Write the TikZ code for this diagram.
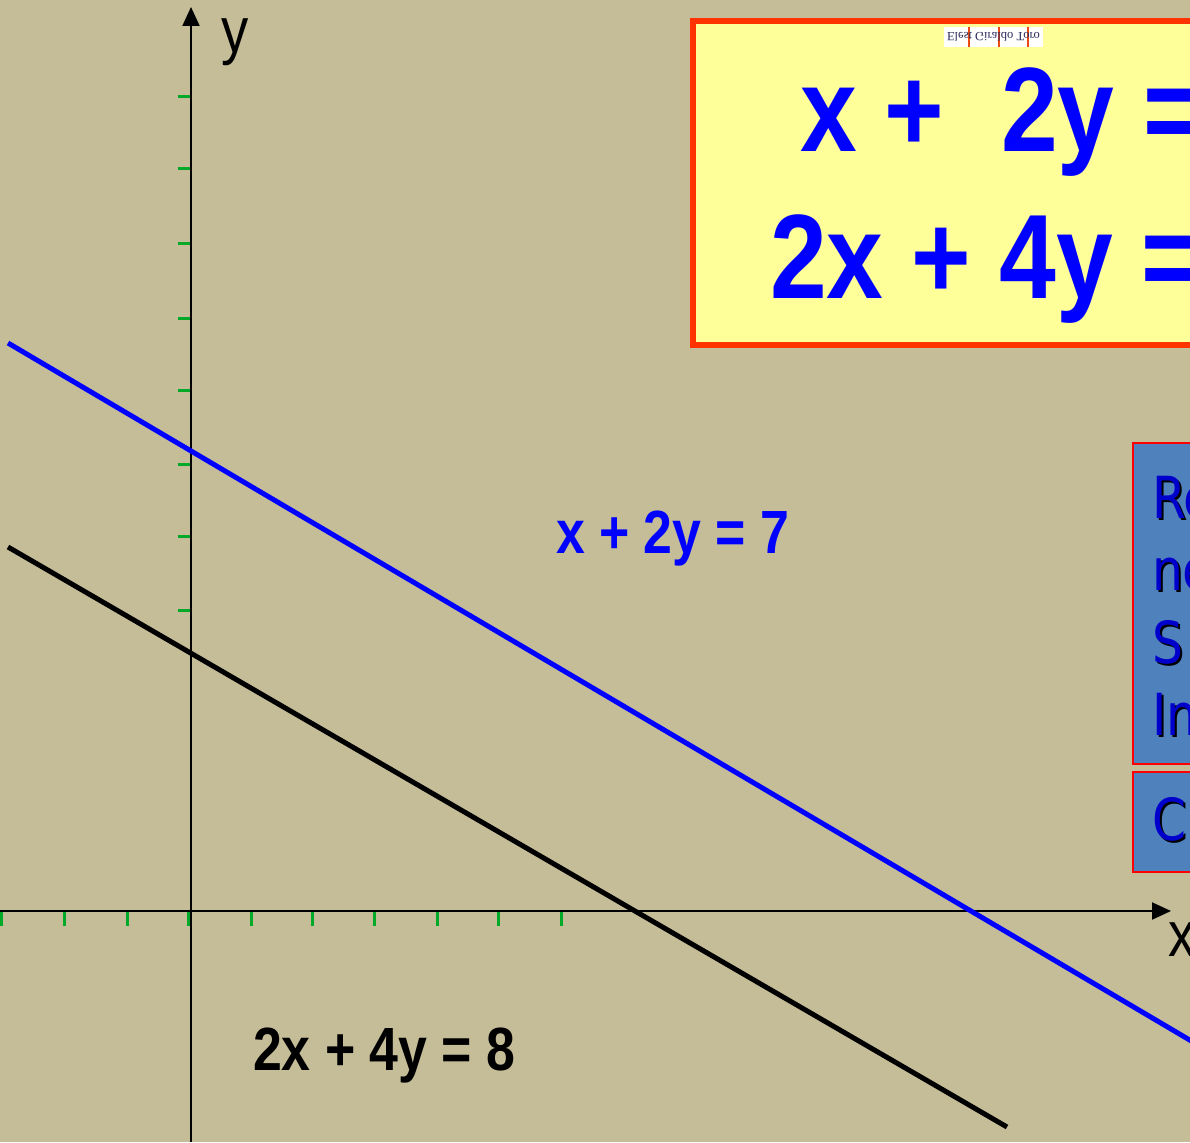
\documentclass[tikz,border=0pt]{standalone}
\usepackage{fontspec}
\setmainfont{Liberation Sans}
\newfontfamily\narfont[FakeStretch=0.85]{Liberation Sans}
\newfontfamily\dvfont[FakeStretch=0.84]{DejaVu Sans}
\newfontfamily\creditfont{Liberation Serif}
\usetikzlibrary{arrows.meta}
\definecolor{bgc}{RGB}{197,189,151}
\definecolor{yelfill}{RGB}{255,255,153}
\definecolor{orborder}{RGB}{255,51,0}
\definecolor{boxblue}{RGB}{79,129,189}
\definecolor{tickgreen}{RGB}{0,170,40}
\definecolor{eqblue}{RGB}{0,0,255}
\definecolor{darkblue}{RGB}{0,0,205}
\definecolor{creditcol}{RGB}{40,40,90}
\newcommand{\shadowtxt}[1]{\rlap{\hspace{2.5pt}\raisebox{-2.5pt}{\color{black}#1}}#1}
\tikzset{
  txt/.style={anchor=base west, inner sep=0pt, outer sep=0pt},
  bigeq/.style={txt, text=eqblue, font=\narfont\bfseries\fontsize{120}{120}\selectfont},
  lbl/.style={txt, font=\narfont\bfseries\fontsize{61}{61}\selectfont},
  axlbl/.style={txt, font=\narfont\fontsize{64}{64}\selectfont},
  boxtxt/.style={txt, text=darkblue, font=\dvfont\fontsize{58}{58}\selectfont},
  tickmark/.style={draw=tickgreen, line width=3pt},
  axis/.style={draw=black, line width=2pt, -{Triangle[length=19pt,width=17pt]}},
  graphline/.style={line width=5pt},
  sidebox/.style={fill=boxblue, draw=red, line width=2pt}
}
\begin{document}
\begin{tikzpicture}[x=1pt,y=-1pt]
\useasboundingbox (0,0) rectangle (1190,1142);
\clip (0,0) rectangle (1190,1142);
\fill[bgc] (0,0) rectangle (1190,1142);

% equation box
\filldraw[fill=yelfill, draw=orborder, line width=6pt] (693,21) rectangle (1230,345);
\node[bigeq] (eq1) at (800,152) {x +\ \ 2y =};
\node[bigeq] (eq2) at (770,298) {2x + 4y =};

% credit label
\fill[white] (944,27) rectangle (1043,47);
\foreach \bx in {969,999,1028} \draw[draw=orborder!70!brown, line width=1.2pt] (\bx,27) -- (\bx,47);
\node[inner sep=0pt, text=creditcol, font=\creditfont\fontsize{12.5}{12.5}\selectfont] (credit) at (993.5,37) {\scalebox{1}[-1]{Elest Giraldo Toro}};

% side boxes
\filldraw[sidebox] (1133,443) rectangle (1230,764);
\filldraw[sidebox] (1133,772) rectangle (1230,872);
\node[boxtxt] (t1) at (1152,518) {\shadowtxt{Re}};
\node[boxtxt] (t2) at (1152,590) {\shadowtxt{ne}};
\node[boxtxt] (t3) at (1152,663) {\shadowtxt{S}};
\node[boxtxt] (t4) at (1152,735) {\shadowtxt{In}};
\node[boxtxt] (t5) at (1152,840) {\shadowtxt{C}};

% ticks
\foreach \tx in {1,64,127,188,251,312,374,437,498,561}
  \draw[tickmark] (\tx,912) -- (\tx,926);
\foreach \ty in {97,169,243,318,390,464,536,610}
  \draw[tickmark] (178,\ty) -- (191,\ty);

% axes
\coordinate (xs) at (0,911);
\coordinate (xe) at (1171,911);
\coordinate (ys) at (191,1142);
\coordinate (ye) at (191,7);
\draw[axis] (xs) -- (xe);
\draw[axis] (ys) -- (ye);
\node[axlbl] (ylab) at (221,53) {y};
\node[axlbl] (xlab) at (1168,956) {x};

% graph lines
\coordinate (b1) at (8,343);
\coordinate (b2) at (1210,1052);
\coordinate (k1) at (8,547);
\coordinate (k2) at (1007,1127);
\draw[graphline, eqblue] (b1) -- (b2);
\draw[graphline, black] (k1) -- (k2);

% line labels
\node[lbl, text=eqblue] (lblue) at (556,553) {x + 2y = 7};
\node[lbl, text=black] (lblack) at (253,1070) {2x + 4y = 8};
\end{tikzpicture}
\end{document}
